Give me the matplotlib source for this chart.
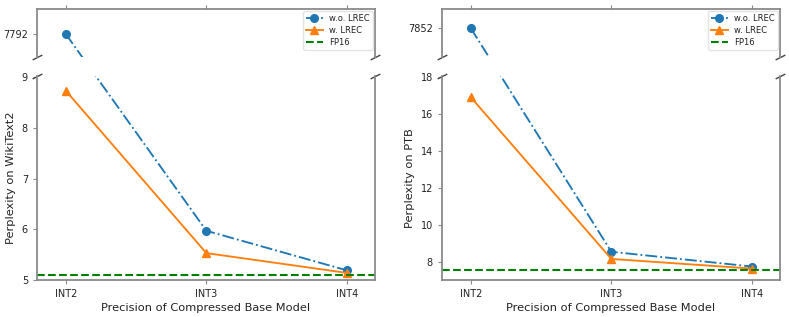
import matplotlib
matplotlib.use('Agg')
import matplotlib.pyplot as plt
from matplotlib.lines import Line2D

precisions = ['INT2', 'INT3', 'INT4']

wiki_wo_lrec = [7792, 5.97, 5.19]
wiki_w_lrec = [8.73, 5.53, 5.14]
wiki_fp16 = 5.09

ptb_wo_lrec = [7852, 8.53, 7.73]
ptb_w_lrec = [16.9, 8.14, 7.62]
ptb_fp16 = 7.53

C_WO = '#1f77b4'
C_W = '#ff7f0e'
C_FP = 'green'
SPINE = '#8a8a8a'
TXT = '#222222'

fig = plt.figure(figsize=(7.89, 3.17), dpi=100)


def panel(left, wo, w, fp16, ylim_top, ytick_top, ylim_bot, yticks_bot, ylabel):
    width = 0.4284
    ax_t = fig.add_axes([left, 0.820, width, 0.1514])
    ax_b = fig.add_axes([left, 0.1167, width, 0.6435])
    x = list(range(len(precisions)))
    for ax in (ax_t, ax_b):
        ax.set_xlim(-0.205, 2.2)
        for s in ax.spines.values():
            s.set_color(SPINE)
            s.set_linewidth(1.3)
        ax.tick_params(colors=SPINE, labelcolor=TXT, labelsize=7, length=3, width=0.8)
    ax_t.set_ylim(*ylim_top)
    ax_b.set_ylim(*ylim_bot)
    ax_t.set_yticks([ytick_top])
    ax_b.set_yticks(yticks_bot)
    ax_t.spines['bottom'].set_visible(False)
    ax_b.spines['top'].set_visible(False)
    ax_t.xaxis.tick_top()
    ax_t.set_xticks(x)
    ax_t.tick_params(labeltop=False)
    ax_b.set_xticks(x)
    ax_b.set_xticklabels(precisions)
    ax_b.set_xlabel('Precision of Compressed Base Model', fontsize=8.2, color=TXT, labelpad=3)
    ax_b.set_ylabel(ylabel, fontsize=8.2, color=TXT, labelpad=4)

    # continuous-looking broken line for the first segment
    p0 = ax_t.transData.transform((x[0], wo[0]))
    p1 = ax_b.transData.transform((x[1], wo[1]))
    yb = ax_b.transData.inverted().transform(p0)[1]
    yt = ax_t.transData.inverted().transform(p1)[1]
    lw = 1.35
    ms = 5.5
    ax_t.plot([x[0], x[1]], [wo[0], yt], linestyle='-.', color=C_WO, lw=lw,
              marker='o', ms=ms, markevery=[0])
    ax_b.plot(x, [yb] + list(wo[1:]), linestyle='-.', color=C_WO, lw=lw,
              marker='o', ms=ms, markevery=[1, 2])
    ax_b.plot(x, w, linestyle='-', color=C_W, lw=lw, marker='^', ms=ms)
    ax_b.axhline(fp16, color=C_FP, linestyle='--', lw=1.5)

    handles = [
        Line2D([], [], color=C_WO, linestyle='-.', lw=lw, marker='o', ms=ms),
        Line2D([], [], color=C_W, linestyle='-', lw=lw, marker='^', ms=ms),
        Line2D([], [], color=C_FP, linestyle='--', lw=1.5),
    ]
    leg = ax_t.legend(handles, ['w.o. LREC', 'w. LREC', 'FP16'], loc='upper right',
                      fontsize=6, borderaxespad=0.25, handlelength=2.0, labelspacing=0.35,
                      borderpad=0.35, framealpha=0.8)
    leg.get_frame().set_edgecolor('#dddddd')
    for t in leg.get_texts():
        t.set_color(TXT)

    mk = dict(marker=[(-1, -0.5), (1, 0.5)], markersize=7, linestyle='none',
              color='#444444', mec='#444444', mew=1, clip_on=False)
    ax_t.plot([0, 1], [0, 0], transform=ax_t.transAxes, **mk)
    ax_b.plot([0, 1], [1, 1], transform=ax_b.transAxes, **mk)


panel(0.0469, wiki_wo_lrec, wiki_w_lrec, wiki_fp16, (7781, 7804), 7792,
      (5.0, 9.02), [5, 6, 7, 8, 9], 'Perplexity on WikiText2')
panel(0.5602, ptb_wo_lrec, ptb_w_lrec, ptb_fp16, (7840, 7860), 7852,
      (7.0, 18.05), [8, 10, 12, 14, 16, 18], 'Perplexity on PTB')

fig.savefig('out.png', dpi=100)
